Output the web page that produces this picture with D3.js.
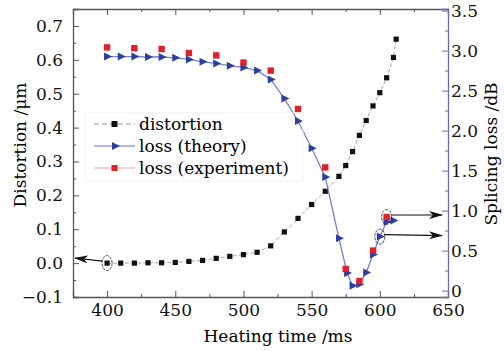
<!DOCTYPE html>
<html>
<head>
<meta charset="utf-8">
<script src="https://cdn.jsdelivr.net/npm/d3@7"></script>
<style>
  body { margin: 0; background: #fff; }
  svg { display: block; }
  text { font-family: "DejaVu Serif", serif; }
</style>
</head>
<body>
<div class="chart"></div>
<script>
// heating time (ms) and distortion (um)
const distX = [400, 410, 420, 430, 440, 450, 460, 470, 480, 490, 500, 510, 520, 530, 540, 550, 560, 570, 575, 580, 585, 590, 595, 600, 605, 610, 612];
const distY = [0, 0, 0, 0.001, 0.001, 0.002, 0.005, 0.008, 0.014, 0.02, 0.025, 0.032, 0.051, 0.092, 0.132, 0.173, 0.212, 0.256, 0.288, 0.329, 0.377, 0.421, 0.464, 0.503, 0.547, 0.607, 0.661];

// theoretical splicing loss (dB)
const theoryX = [400, 410, 420, 430, 440, 450, 460, 470, 480, 490, 500, 510, 520, 530, 540, 550, 560, 570, 576, 580, 585, 590, 595, 600, 605, 610];
const theoryY = [2.925, 2.925, 2.925, 2.92, 2.92, 2.91, 2.89, 2.86, 2.84, 2.81, 2.79, 2.75, 2.64, 2.40, 2.12, 1.78, 1.42, 0.655, 0.22, 0.06, 0.08, 0.225, 0.45, 0.675, 0.86, 0.875];

// measured splicing loss (dB)
const expX = [400, 420, 440, 460, 480, 500, 520, 540, 560, 575, 585, 595, 605];
const expY = [3.04, 3.03, 3.02, 2.97, 2.94, 2.85, 2.75, 2.27, 1.54, 0.27, 0.12, 0.50, 0.92];

const xTicks = [400, 450, 500, 550, 600, 650];
const leftTicks = [-0.1, 0, 0.1, 0.2, 0.3, 0.4, 0.5, 0.6, 0.7];
const rightTicks = [0, 0.5, 1.0, 1.5, 2.0, 2.5, 3.0, 3.5];
const seriesNames = ["distortion", "loss (theory)", "loss (experiment)"];

const W = 504, H = 351;
const L = 73, R = 448, T = 9, B = 297;

const svg = d3.select(".chart").append("svg").attr("width", W).attr("height", H);

const x = d3.scaleLinear().domain([375, 650]).range([L, R]);
const yL = d3.scaleLinear().domain([-0.1, 0.75]).range([B, T]);
const yR = d3.scaleLinear().domain([-0.08, 3.52]).range([B, T]);

const axisGrey = "#555";
const rightCol = "#6a6aae";

function styleAxis(g, col) {
    g.select(".domain").attr("stroke", col).attr("stroke-width", 1.3);
    g.selectAll(".tick line").attr("stroke", col).attr("stroke-width", 1);
    g.selectAll(".tick text").attr("fill", "#111").style("font-size", "17px").style("font-family", "DejaVu Serif, serif");
}

// bottom axis
const gx = svg.append("g").attr("transform", "translate(0," + B + ")")
    .call(d3.axisBottom(x).tickValues(xTicks).tickSize(-6).tickPadding(7).tickFormat(d3.format("d")));
styleAxis(gx, axisGrey);
const gxm = svg.append("g").attr("transform", "translate(0," + B + ")")
    .call(d3.axisBottom(x).tickValues([425, 475, 525, 575, 625]).tickSize(-3).tickFormat(""));
styleAxis(gxm, axisGrey);
gxm.select(".domain").remove();

// top axis (mirror)
const gt = svg.append("g").attr("transform", "translate(0," + T + ")")
    .call(d3.axisTop(x).tickValues(xTicks).tickSize(-6).tickFormat(""));
styleAxis(gt, axisGrey);
const gtm = svg.append("g").attr("transform", "translate(0," + T + ")")
    .call(d3.axisTop(x).tickValues([425, 475, 525, 575, 625]).tickSize(-3).tickFormat(""));
styleAxis(gtm, axisGrey);
gtm.select(".domain").remove();

// left axis
const gl = svg.append("g").attr("transform", "translate(" + L + ",0)")
    .call(d3.axisLeft(yL).tickValues(leftTicks).tickSize(-6).tickPadding(10).tickFormat(d3.format(".1f")));
styleAxis(gl, axisGrey);
const glm = svg.append("g").attr("transform", "translate(" + L + ",0)")
    .call(d3.axisLeft(yL).tickValues(d3.range(-0.05, 0.75, 0.1)).tickSize(-3).tickFormat(""));
styleAxis(glm, axisGrey);
glm.select(".domain").remove();

// right axis
const gr = svg.append("g").attr("transform", "translate(" + R + ",0)")
    .call(d3.axisRight(yR).tickValues(rightTicks).tickSize(-6).tickPadding(3)
        .tickFormat(d => d === 0 ? "0" : d3.format(".1f")(d)));
styleAxis(gr, rightCol);
const grm = svg.append("g").attr("transform", "translate(" + R + ",0)")
    .call(d3.axisRight(yR).tickValues(d3.range(0.25, 3.5, 0.5)).tickSize(-3).tickFormat(""));
styleAxis(grm, rightCol);
grm.select(".domain").remove();

// axis titles
svg.append("text").attr("transform", "translate(26,145) rotate(-90)")
    .attr("text-anchor", "middle").style("font-size", "17px").text("Distortion /μm");
svg.append("text").attr("transform", "translate(497,154) rotate(-90)")
    .attr("text-anchor", "middle").style("font-size", "17px").text("Splicing loss /dB");
svg.append("text").attr("x", 278).attr("y", 342)
    .attr("text-anchor", "middle").style("font-size", "17px").text("Heating time /ms");

// distortion series
const distData = distX.map((d, i) => [d, distY[i]]);
svg.append("path").datum(distData)
    .attr("fill", "none").attr("stroke", "#a8a8a8").attr("stroke-width", 1).attr("stroke-dasharray", "4,2")
    .attr("d", d3.line().x(d => x(d[0])).y(d => yL(d[1])));
svg.append("g").selectAll("rect").data(distData).join("rect")
    .attr("x", d => x(d[0]) - 2.6).attr("y", d => yL(d[1]) - 2.6)
    .attr("width", 5.2).attr("height", 5.2).attr("fill", "#111");

// theory series
const theoryData = theoryX.map((d, i) => [d, theoryY[i]]);
svg.append("path").datum(theoryData)
    .attr("fill", "none").attr("stroke", "#7880c8").attr("stroke-width", 1.3)
    .attr("d", d3.line().x(d => x(d[0])).y(d => yR(d[1])));
const tri = "M-3,-4L5,0L-3,4Z";
svg.append("g").selectAll("path").data(theoryData).join("path")
    .attr("transform", d => "translate(" + x(d[0]) + "," + yR(d[1]) + ")")
    .attr("d", tri).attr("fill", "#2b3f9e");

// experiment series
const expData = expX.map((d, i) => [d, expY[i]]);
svg.append("g").selectAll("rect").data(expData).join("rect")
    .attr("x", d => x(d[0]) - 3.2).attr("y", d => yR(d[1]) - 3.2)
    .attr("width", 6.4).attr("height", 6.4).attr("fill", "#e0202c");

// legend
const lg = svg.append("g");
lg.append("rect").attr("x", 85).attr("y", 113).attr("width", 218).attr("height", 68)
    .attr("fill", "none").attr("stroke", "#f2f2f2");
const legendRows = [
    { name: seriesNames[0], line: "#9a9a9a", dash: "5,3", mark: "sq", col: "#111" },
    { name: seriesNames[1], line: "#6b73c6", dash: null, mark: "tri", col: "#2b3f9e" },
    { name: seriesNames[2], line: "#f0a0a0", dash: null, mark: "sq", col: "#e0202c" }
];
legendRows.forEach((r, i) => {
    const yy = 124 + i * 22;
    lg.append("line").attr("x1", 94).attr("x2", 135).attr("y1", yy).attr("y2", yy)
        .attr("stroke", r.line).attr("stroke-width", 1.1).attr("stroke-dasharray", r.dash);
    if (r.mark === "sq") {
        lg.append("rect").attr("x", 111.5).attr("y", yy - 3).attr("width", 6).attr("height", 6).attr("fill", r.col);
    } else {
        lg.append("path").attr("transform", "translate(115," + yy + ")").attr("d", tri).attr("fill", r.col);
    }
    lg.append("text").attr("x", 139).attr("y", yy + 6).style("font-size", "17px").text(r.name);
});

// annotations: ellipses and arrows
const defs = svg.append("defs");
defs.append("marker").attr("id", "ah").attr("viewBox", "0 0 14 8").attr("refX", 13).attr("refY", 4)
    .attr("markerWidth", 14).attr("markerHeight", 8).attr("markerUnits", "userSpaceOnUse").attr("orient", "auto")
    .append("path").attr("d", "M0,0L14,4L0,8L4,4Z").attr("fill", "#111");

const notes = [
    { cx: x(400), cy: yL(0), tx: 75, ty: 258, fromX: x(400) - 5 },
    { cx: x(605), cy: yR(0.92), tx: 442, ty: yR(0.92) - 2, fromX: x(605) + 5 },
    { cx: x(600), cy: yR(0.675), tx: 442, ty: yR(0.675) - 1, fromX: x(600) + 5 }
];
notes.forEach(n => {
    svg.append("ellipse").attr("cx", n.cx).attr("cy", n.cy).attr("rx", 5).attr("ry", 7.5)
        .attr("fill", "none").attr("stroke", "#222").attr("stroke-width", 0.8).attr("stroke-dasharray", "3,1");
    svg.append("line").attr("x1", n.fromX).attr("y1", n.cy - 2).attr("x2", n.tx).attr("y2", n.ty)
        .attr("stroke", "#111").attr("stroke-width", 1.1).attr("marker-end", "url(#ah)");
});
</script>
</body>
</html>
